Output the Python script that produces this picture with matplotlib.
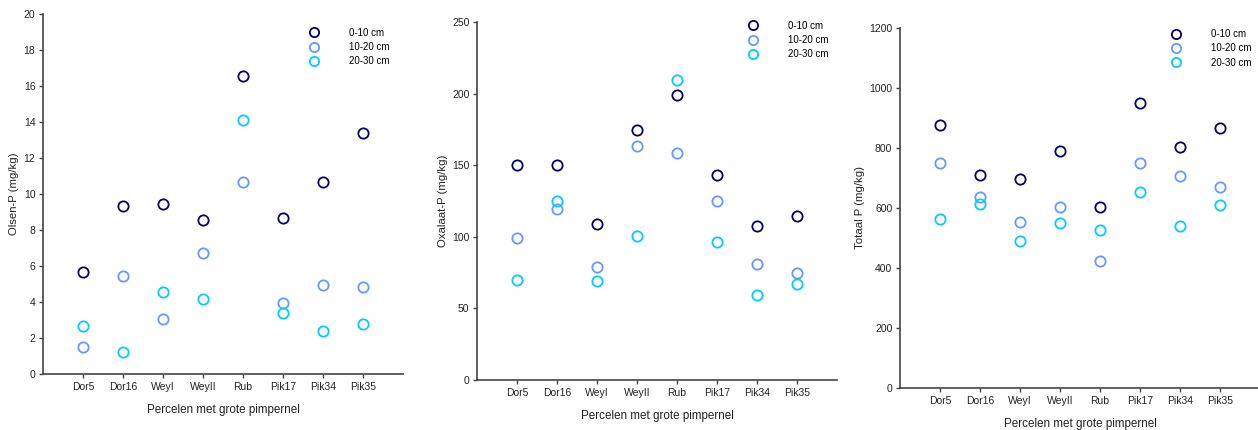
import matplotlib.pyplot as plt
import numpy as np

plt.rcParams['font.family'] = ['Liberation Sans', 'DejaVu Sans']

percelen = ['Dor5', 'Dor16', 'WeyI', 'WeyII', 'Rub', 'Pik17', 'Pik34', 'Pik35']
diepte = ['0-10 cm', '10-20 cm', '20-30 cm']
kleuren = ['#000066', '#6699ff', '#00ccff']

# Olsen-P (mg/kg)
olsen_0_10 = [5.64, 9.33, 9.46, 8.57, 16.53, 8.68, 10.65, 13.41]
olsen_10_20 = [1.52, 5.42, 3.04, 6.70, 10.69, 3.93, 4.97, 4.84]
olsen_20_30 = [2.69, 1.24, 4.55, 4.16, 14.10, 3.41, 2.41, 2.78]

# Oxalaat-P (mg/kg)
oxalaat_0_10 = [150, 150, 108.8, 174.9, 199.3, 143, 107.4, 114.2]
oxalaat_10_20 = [99.3, 119.5, 78.6, 163.3, 158.6, 124.7, 80.9, 74.4]
oxalaat_20_30 = [69.5, 124.9, 69.1, 100.9, 209.3, 96.3, 59.1, 66.7]

# Totaal P (mg/kg)
totaal_0_10 = [877, 711, 697, 791, 604, 949, 804, 866]
totaal_10_20 = [751, 638, 552, 602, 423, 751, 706, 669]
totaal_20_30 = [564, 613, 491, 550, 526, 654, 540, 609]

panels = [
    ([olsen_0_10, olsen_10_20, olsen_20_30], 'Olsen-P (mg/kg)', 20, 2,
     [0.0342, 0.1302, 0.2862, 0.8372], (0.729, 0.973)),
    ([oxalaat_0_10, oxalaat_10_20, oxalaat_20_30], 'Oxalaat-P (mg/kg)', 250, 50,
     [0.3792, 0.1163, 0.2862, 0.8325], (0.743, 1.015)),
    ([totaal_0_10, totaal_10_20, totaal_20_30], 'Totaal P (mg/kg)', 1200, 200,
     [0.7154, 0.0977, 0.2862, 0.8372], (0.743, 1.008)),
]

fig = plt.figure(figsize=(12.58, 4.30), dpi=100)
x = np.arange(len(percelen))

for reeksen, ylabel, ymax, ystep, pos, leg_pos in panels:
    ax = fig.add_axes(pos)
    for waarden, label, kleur in zip(reeksen, diepte, kleuren):
        ax.plot(x, waarden, 'o', ms=7.4, mfc='none', mec=kleur, mew=1.3,
                label=label, clip_on=False)
    ax.set_xlim(-1, 8)
    ax.set_ylim(0, ymax)
    ax.set_xticks(x)
    ax.set_xticklabels(percelen)
    ax.set_yticks(np.arange(0, ymax + ystep, ystep))
    ax.spines['top'].set_visible(False)
    ax.spines['right'].set_visible(False)
    for s in ['left', 'bottom']:
        ax.spines[s].set_color('#444444')
        ax.spines[s].set_linewidth(1.2)
    ax.tick_params(direction='out', length=3, width=1, pad=2.5,
                   colors='#444444', labelsize=7.5, labelcolor='#222222')
    ax.set_ylabel(ylabel, fontsize=8.2, color='#222222', labelpad=3)
    ax.set_xlabel('Percelen met grote pimpernel', fontsize=8.4,
                  color='#222222', labelpad=9)
    ax.legend(loc='upper left', bbox_to_anchor=leg_pos, frameon=False,
              fontsize=7, markerscale=0.9, handlelength=1.0,
              handletextpad=3.1, labelspacing=0.45, borderaxespad=0)

fig.savefig('out.png', dpi=100)
